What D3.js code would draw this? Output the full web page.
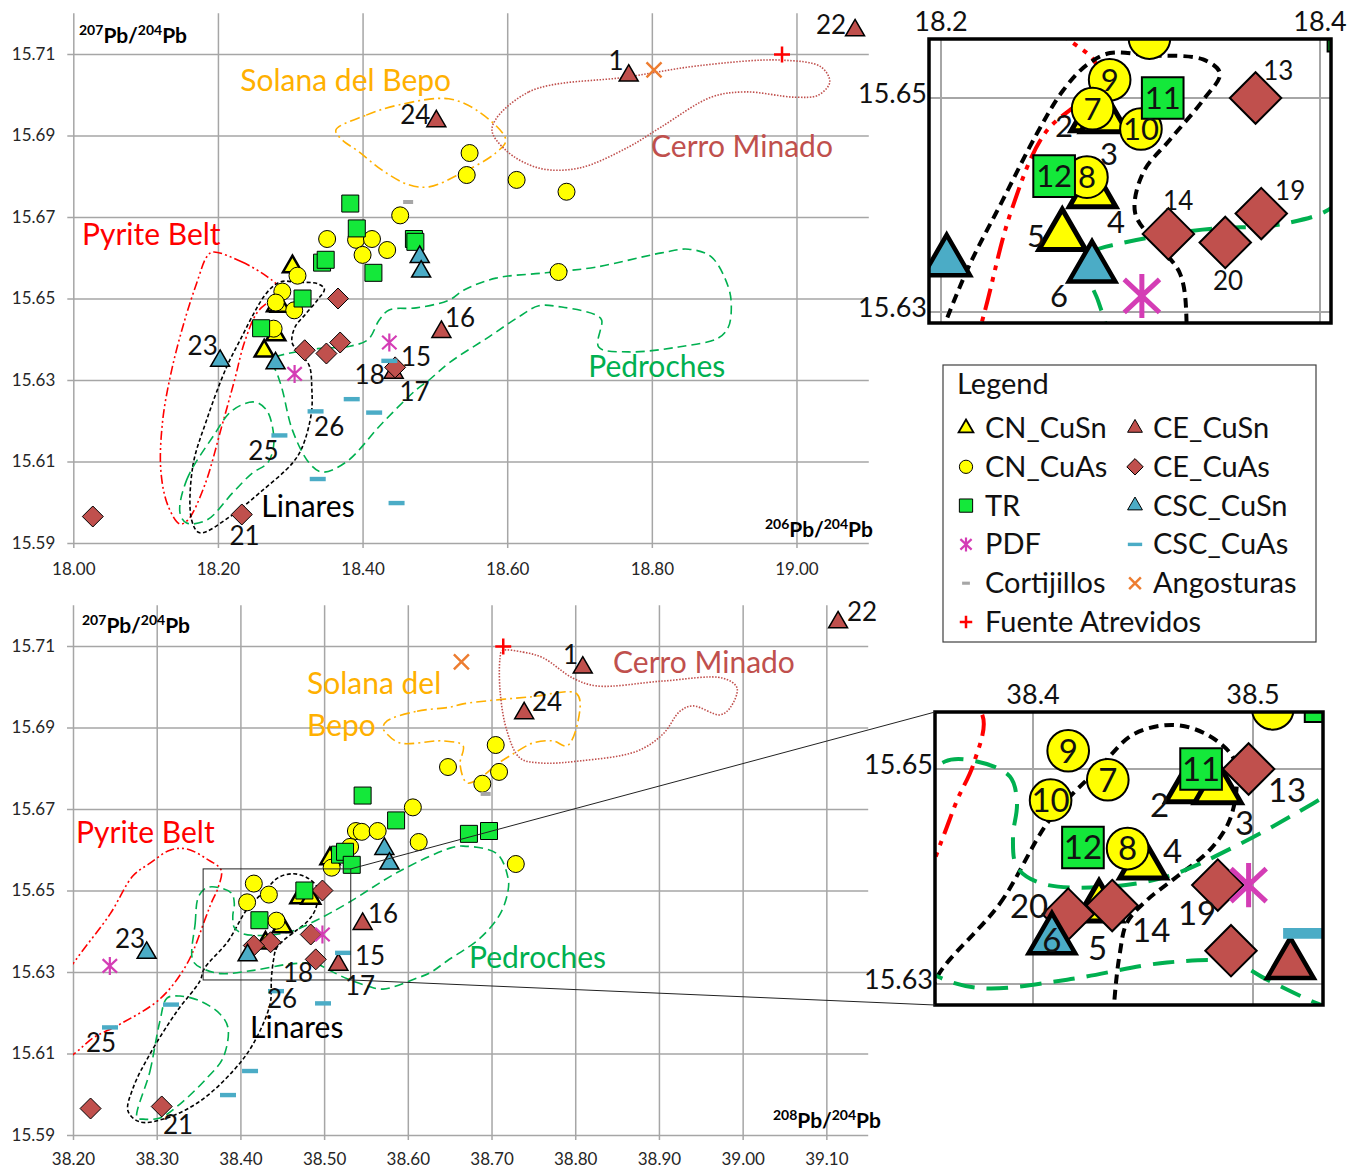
<!DOCTYPE html>
<meta charset="utf-8">
<title>Pb isotope ratios</title>
<style>
  body { margin: 0; background: #fff; }
  text { font-family: Lato, "Open Sans", sans-serif; }
</style>
<body>
<svg id="chart" width="1354" height="1168"></svg>
<script src="https://d3js.org/d3.v7.min.js"></script>
<script>

// samples: [206Pb/204Pb, 207Pb/204Pb, 208Pb/204Pb, sample no.]
var cnCuSn = [[18.281,15.6482,38.471,"2"],[18.286,15.6481,38.484,"3"],[18.280,15.6411,38.450,"4"],
  [18.264,15.6371,38.430,"5"],[18.303,15.6578,38.507,""]];
var ceCuSn = [[19.081,15.7158,39.114,"22"],[18.768,15.7047,38.809,"1"],[18.502,15.6935,38.739,"24"],
  [18.509,15.6418,38.546,"16"],[18.443,15.6318,38.517,"17"]];
var cnCuAs = [[18.289,15.6517,38.416,"9"],[18.280,15.6490,38.434,"7"],[18.3055,15.6471,38.408,"10"],
  [18.277,15.6426,38.443,"8"],[18.310,15.6556,38.509,""],[18.351,15.6646,38.538,""],
  [18.391,15.6644,38.545,""],[18.413,15.6646,38.564,""],[18.400,15.6607,38.531,""],
  [18.434,15.6619,38.613,""],[18.452,15.6704,38.606,""],[18.548,15.6857,38.705,""],
  [18.544,15.6803,38.648,""],[18.613,15.6791,38.709,""],[18.682,15.6762,38.689,""],
  [18.671,15.6565,38.729,""]];
var ceCuAs = [[18.027,15.5965,38.221,""],[18.233,15.5970,38.306,"21"],[18.366,15.6500,38.498,"13"],
  [18.320,15.6373,38.436,"14"],[18.350,15.6365,38.416,"20"],[18.369,15.6392,38.484,"19"],
  [18.445,15.6331,38.490,"18"]];
var tr = [[18.317,15.6500,38.4764,"11"],[18.2597,15.6427,38.4227,"12"],[18.383,15.6733,38.546,""],
  [18.392,15.6672,38.586,""],[18.344,15.6588,38.519,""],[18.349,15.6595,38.525,""],
  [18.415,15.6563,38.533,""],[18.471,15.6646,38.697,""],[18.473,15.6639,38.673,""]];
var cscCuSn = [[18.203,15.6347,38.288,"23"],[18.2797,15.6341,38.4086,"6"],[18.479,15.6602,38.572,""],
  [18.481,15.6566,38.578,""]];
var pdf = [[18.306,15.6315,38.244,""],[18.437,15.6392,38.498,""]];
var cscCuAs = [[18.437,15.6347,38.5226,"15"],[18.385,15.6253,38.4425,"26"],[18.335,15.6223,38.4987,""],
  [18.416,15.6220,38.3171,""],[18.285,15.6164,38.2442,"25"],[18.338,15.6057,38.4115,""],
  [18.447,15.5998,38.3852,""]];
var cortijillos = [[18.463,15.6737,38.693,""]];
var angosturas = [[18.803,15.7061,38.664,""]];
var fuenteAtrevidos = [[18.980,15.7099,38.714,""]];

// ore field outlines, 206/204 vs 207/204
var pyriteTop = [[18.1927,15.6614],[18.2327,15.6590],[18.2685,15.6553],[18.2820,15.6531],[18.2790,15.6507],
  [18.2548,15.6467],[18.2368,15.6393],[18.2230,15.6300],[18.2051,15.6185],[18.1817,15.6042],[18.1582,15.5956],
  [18.1472,15.5947],[18.1306,15.5993],[18.1210,15.6079],[18.1237,15.6202],[18.1361,15.6325],[18.1541,15.6447],
  [18.1720,15.6545],[18.1844,15.6602]];
var linaresTop = [[18.1637,15.5956],[18.1651,15.6087],[18.1844,15.6202],[18.2120,15.6332],[18.2327,15.6405],
  [18.2507,15.6467],[18.2644,15.6507],[18.2770,15.6531],[18.2892,15.6542],[18.3087,15.6540],[18.3383,15.6536],
  [18.3472,15.6523],[18.3383,15.6498],[18.3208,15.6461],[18.3066,15.6430],[18.3024,15.6393],[18.3119,15.6367],
  [18.3261,15.6336],[18.3298,15.6280],[18.3292,15.6219],[18.3168,15.6136],[18.3030,15.6096],[18.2575,15.6023],
  [18.2161,15.5964],[18.1748,15.5925]];
var pedrochesTopA = [[18.1475,15.5974],[18.1568,15.6055],[18.1927,15.6160],[18.2203,15.6226],[18.2506,15.6246],
  [18.2672,15.6226],[18.2754,15.6185],[18.2768,15.6136],[18.2685,15.6096],[18.2478,15.6072],[18.2203,15.6023],
  [18.1844,15.5956],[18.1568,15.5949]];
var pedrochesTopB = [[18.2760,15.6343],[18.2800,15.6356],[18.2945,15.6364],[18.3380,15.6377],[18.3826,15.6383],
  [18.4080,15.6400],[18.4230,15.6447],[18.4368,15.6472],[18.4741,15.6477],[18.5196,15.6496],[18.5403,15.6521],
  [18.5844,15.6550],[18.6534,15.6563],[18.7223,15.6577],[18.8134,15.6612],[18.8506,15.6621],[18.8823,15.6602],
  [18.9058,15.6528],[18.9099,15.6479],[18.9058,15.6430],[18.8920,15.6403],[18.8368,15.6381],[18.7678,15.6369],
  [18.7265,15.6381],[18.7306,15.6447],[18.7223,15.6460],[18.6754,15.6479],[18.6437,15.6482],[18.6161,15.6455],
  [18.5748,15.6406],[18.5196,15.6342],[18.4920,15.6300],[18.4741,15.6276],[18.4272,15.6194],[18.3775,15.6099],
  [18.3444,15.6074],[18.3264,15.6096],[18.3030,15.6177],[18.2892,15.6275],[18.2830,15.6310]];
var solanaTop = [[18.363,15.6913],[18.405,15.6950],[18.450,15.6975],[18.519,15.6990],[18.561,15.6958],
  [18.598,15.6889],[18.584,15.6857],[18.537,15.6808],[18.492,15.6774],[18.464,15.6779],[18.427,15.6815],
  [18.395,15.6860],[18.372,15.6889]];
var cerroTop = [[18.579,15.6918],[18.630,15.7007],[18.768,15.7044],[18.864,15.7071],[18.979,15.7085],
  [19.034,15.7068],[19.046,15.7031],[19.030,15.6999],[18.998,15.6994],[18.929,15.7007],[18.882,15.6994],
  [18.813,15.6921],[18.768,15.6872],[18.699,15.6820],[18.644,15.6820],[18.598,15.6864]];

// ore field outlines, 208/204 vs 207/204
var pyriteBot = [[38.1785,15.6069],[38.1665,15.6217],[38.2024,15.6327],[38.2442,15.6442],[38.2717,15.6536],
  [38.2920,15.6567],[38.3159,15.6599],[38.3362,15.6602],[38.3601,15.6577],[38.3770,15.6550],[38.3730,15.6505],
  [38.3655,15.6471],[38.3586,15.6434],[38.3362,15.6320],[38.3039,15.6234],[38.2562,15.6172],[38.2239,15.6138],
  [38.2024,15.6101]];
var linaresBot = [[38.3568,15.6308],[38.3850,15.6375],[38.4077,15.6453],[38.4305,15.6502],[38.4455,15.6532],
  [38.4636,15.6541],[38.4791,15.6532],[38.4909,15.6511],[38.4927,15.6490],[38.4895,15.6453],[38.4805,15.6425],
  [38.4655,15.6400],[38.4518,15.6378],[38.4427,15.6357],[38.4395,15.6329],[38.4370,15.6285],[38.4354,15.6221],
  [38.4151,15.6123],[38.3912,15.6057],[38.3517,15.5983],[38.3123,15.5942],[38.2800,15.5932],[38.2657,15.5959],
  [38.2717,15.6015],[38.2920,15.6099],[38.3243,15.6204],[38.3517,15.6278]];
var pedrochesBotA = [[38.2765,15.5942],[38.2920,15.6057],[38.3039,15.6180],[38.3123,15.6236],[38.3278,15.6241],
  [38.3517,15.6229],[38.3756,15.6197],[38.3852,15.6163],[38.3792,15.6089],[38.3601,15.6040],[38.3278,15.5976],
  [38.3039,15.5942],[38.2836,15.5939]];
var pedrochesBotB = [[38.3434,15.6327],[38.3460,15.6420],[38.3500,15.6485],[38.3600,15.6507],[38.3745,15.6507],
  [38.3895,15.6493],[38.3927,15.6468],[38.3909,15.6437],[38.3927,15.6409],[38.4032,15.6394],[38.4305,15.6390],
  [38.4609,15.6400],[38.4909,15.6427],[38.5273,15.6468],[38.5907,15.6548],[38.6504,15.6604],[38.6660,15.6609],
  [38.7066,15.6590],[38.7197,15.6531],[38.7197,15.6499],[38.7102,15.6442],[38.6863,15.6383],[38.6468,15.6327],
  [38.6265,15.6298],[38.6110,15.6285],[38.5704,15.6258],[38.5513,15.6266],[38.5291,15.6282],[38.5064,15.6304],
  [38.4909,15.6320],[38.4609,15.6320],[38.4155,15.6304],[38.3773,15.6296],[38.3577,15.6306]];
var solanaBot = [[38.5752,15.6916],[38.6110,15.6940],[38.6504,15.6950],[38.6660,15.6958],[38.7460,15.6975],
  [38.8022,15.6982],[38.8034,15.6916],[38.7902,15.6855],[38.7735,15.6867],[38.7496,15.6862],[38.7257,15.6835],
  [38.7066,15.6810],[38.6863,15.6776],[38.6707,15.6764],[38.6624,15.6810],[38.6660,15.6855],[38.6421,15.6867],
  [38.5907,15.6862],[38.5752,15.6884],[38.5704,15.6899]];
var cerroBot = [[38.7126,15.7088],[38.7376,15.7085],[38.7615,15.7071],[38.7974,15.7021],[38.8260,15.7002],
  [38.9049,15.7014],[38.9766,15.7021],[38.9933,15.6997],[38.9849,15.6948],[38.9730,15.6931],[38.9407,15.6953],
  [38.9252,15.6940],[38.9049,15.6884],[38.8738,15.6842],[38.8057,15.6818],[38.7579,15.6813],[38.7341,15.6825],
  [38.7185,15.6891],[38.7102,15.6990],[38.7102,15.7071]];

// ticks
var yTicks = [15.59,15.61,15.63,15.65,15.67,15.69,15.71];
var topXTicks = [18.0,18.2,18.4,18.6,18.8,19.0];
var botXTicks = [38.2,38.3,38.4,38.5,38.6,38.7,38.8,38.9,39.0,39.1];
var insetYTicks = [15.63,15.65];
var topInsetXTicks = [18.2,18.4];
var botInsetXTicks = [38.4,38.5];

// annotations: [text, x value, y value]
var topNumLabels = [["22",19.027,15.7149],["1",18.740,15.7061],["24",18.452,15.6928],["16",18.514,15.6430],
  ["15",18.453,15.6334],["18",18.389,15.6290],["17",18.451,15.6248],["23",18.158,15.6361],["26",18.333,15.6163],
  ["25",18.242,15.6104],["21",18.216,15.5895]];
var botNumLabels = [["22",39.1247,15.7161],["1",38.7854,15.7056],["24",38.7484,15.6940],["16",38.5524,15.6420],
  ["15",38.5369,15.6317],["18",38.4509,15.6275],["17",38.5250,15.6244],["23",38.2502,15.6359],["26",38.4318,15.6212],
  ["25",38.2155,15.6104],["21",38.3075,15.5902]];
var topInsetLabels = [["2",18.2602,15.6464],["3",18.2839,15.6437],["4",18.2876,15.6374],["5",18.2454,15.6361],
  ["6",18.2575,15.6305],["13",18.370,15.6517],["14",18.3172,15.6395],["19",18.3763,15.6405],["20",18.3435,15.6321]];
var botInsetLabels = [["2",38.4532,15.6455],["3",38.4918,15.6439],["4",38.4591,15.6413],["5",38.4250,15.6322],
  ["13",38.5068,15.6469],["14",38.4450,15.6339],["19",38.4659,15.6355],["20",38.3895,15.6361]];
var topInsetInside = ["7","8","9","10","11","12"];
var botInsetInside = ["6","7","8","9","10","11","12"];
var topFieldLabels = [["Solana del Bepo",18.231,15.7009,"solana"],["Cerro Minado",18.799,15.6847,"cerro"],
  ["Pyrite Belt",18.012,15.6631,"pyrite"],["Pedroches",18.712,15.6307,"pedroches"],["Linares",18.260,15.5964,"linares"]];
var botFieldLabels = [["Solana del",38.4796,15.6982,"solana"],["Bepo",38.4796,15.6879,"solana"],
  ["Cerro Minado",38.8452,15.7034,"cerro"],["Pyrite Belt",38.2036,15.6617,"pyrite"],
  ["Pedroches",38.6731,15.6310,"pedroches"],["Linares",38.4115,15.6138,"linares"]];
var legendCol1 = ["CN_CuSn","CN_CuAs","TR","PDF","Cortijillos","Fuente Atrevidos"];
var legendCol2 = ["CE_CuSn","CE_CuAs","CSC_CuSn","CSC_CuAs","Angosturas"];

// ---------------------------------------------------------------- styles
var series = [
  {name:"CN_CuSn", data:cnCuSn, shape:"tri", fill:"#FFFF00", sw:2.5, swi:5},
  {name:"CE_CuSn", data:ceCuSn, shape:"tri", fill:"#C0504D", sw:1.5, swi:4.5},
  {name:"CN_CuAs", data:cnCuAs, shape:"circle", fill:"#FFFF00", sw:1, swi:2},
  {name:"CE_CuAs", data:ceCuAs, shape:"diamond", fill:"#C0504D", sw:1, swi:2},
  {name:"TR", data:tr, shape:"square", fill:"#14E83A", sw:1, swi:2},
  {name:"CSC_CuSn", data:cscCuSn, shape:"tri", fill:"#4BACC6", sw:1.5, swi:4.5},
  {name:"PDF", data:pdf, shape:"star", color:"#D43DB5", sw:2.2, swi:5},
  {name:"CSC_CuAs", data:cscCuAs, shape:"dash", fill:"#4BACC6"},
  {name:"Cortijillos", data:cortijillos, shape:"gdash", fill:"#A6A6A6"},
  {name:"Angosturas", data:angosturas, shape:"x", color:"#ED7D31", sw:2.5, swi:5},
  {name:"Fuente Atrevidos", data:fuenteAtrevidos, shape:"plus", color:"#FF0000", sw:2.5, swi:5}
];
var fieldStyle = {
  pyrite: {color:"#FF0000", dash:[9,3,2,3,2,3]},
  linares: {color:"#000000", dash:[4,2.5]},
  pedroches: {color:"#00B050", dash:[9,5]},
  solana: {color:"#FFB000", dash:[10,4,2,4]},
  cerro: {color:"#C0504D", dash:[1.5,1.5]}
};
var topFields = [[pyriteTop,"pyrite"],[linaresTop,"linares"],[pedrochesTopA,"pedroches"],
  [pedrochesTopB,"pedroches"],[solanaTop,"solana"],[cerroTop,"cerro"]];
var botFields = [[pyriteBot,"pyrite"],[linaresBot,"linares"],[pedrochesBotA,"pedroches"],
  [pedrochesBotB,"pedroches"],[solanaBot,"solana"],[cerroBot,"cerro"]];

var svg = d3.select("#chart");
var defs = svg.append("defs");

function shapePath(shape, k) {
  var a, h, s, r, t;
  switch (shape) {
    case "tri":
      a = 19 * k; h = a * Math.sqrt(3) / 2;
      return "M0," + (-2 * h / 3) + "L" + (a / 2) + "," + (h / 3) + "L" + (-a / 2) + "," + (h / 3) + "Z";
    case "circle":
      r = 8.5 * k;
      return "M" + r + ",0A" + r + "," + r + " 0 1,1 " + (-r) + ",0A" + r + "," + r + " 0 1,1 " + r + ",0Z";
    case "square":
      s = 8.5 * k;
      return "M" + (-s) + "," + (-s) + "H" + s + "V" + s + "H" + (-s) + "Z";
    case "diamond":
      s = 10.5 * k;
      return "M0," + (-s) + "L" + s + ",0L0," + s + "L" + (-s) + ",0Z";
    case "dash":
      s = 8 * k; t = 2.2 * k;
      return "M" + (-s) + "," + (-t) + "H" + s + "V" + t + "H" + (-s) + "Z";
    case "gdash":
      s = 5 * k; t = 2 * k;
      return "M" + (-s) + "," + (-t) + "H" + s + "V" + t + "H" + (-s) + "Z";
    case "star":
      s = 9 * k;
      return "M0," + (-s) + "V" + s + "M" + (-0.8 * s) + "," + (-0.75 * s) + "L" + (0.8 * s) + "," + (0.75 * s) +
        "M" + (-0.8 * s) + "," + (0.75 * s) + "L" + (0.8 * s) + "," + (-0.75 * s);
    case "x":
      s = 7.5 * k;
      return "M" + (-s) + "," + (-s) + "L" + s + "," + s + "M" + (-s) + "," + s + "L" + s + "," + (-s);
    case "plus":
      s = 8 * k;
      return "M" + (-s) + ",0H" + s + "M0," + (-s) + "V" + s;
  }
}

function styleMarker(sel, sr, inset) {
  if (sr.color) {
    sel.attr("fill", "none").attr("stroke", sr.color).attr("stroke-width", inset ? sr.swi : sr.sw);
  } else if (sr.sw) {
    sel.attr("fill", sr.fill).attr("stroke", "#000").attr("stroke-width", inset ? sr.swi : sr.sw)
      .attr("stroke-linejoin", "miter");
  } else {
    sel.attr("fill", sr.fill).attr("stroke", "none");
  }
}

function drawFields(g, fields, x, y, lw, dk) {
  var line = d3.line().x(function(d) { return x(d[0]); }).y(function(d) { return y(d[1]); })
    .curve(d3.curveCatmullRomClosed.alpha(0.5));
  fields.forEach(function(f) {
    var st = fieldStyle[f[1]];
    g.append("path").attr("d", line(f[0])).attr("fill", "none")
      .attr("stroke", st.color).attr("stroke-width", lw)
      .attr("stroke-dasharray", st.dash.map(function(v) { return v * dk; }).join(","));
  });
}

function drawPoints(g, xi, x, y, k, inset) {
  series.forEach(function(sr) {
    g.selectAll(null).data(sr.data).enter().append("path")
      .attr("d", shapePath(sr.shape, k))
      .attr("transform", function(d) { return "translate(" + x(d[xi]) + "," + y(d[1]) + ")"; })
      .call(styleMarker, sr, inset);
  });
}

function addLabels(g, labels, x, y, size, color) {
  g.selectAll(null).data(labels).enter().append("text")
    .attr("x", function(d) { return x(d[1]); })
    .attr("y", function(d) { return y(d[2]); })
    .attr("fill", color || "#111")
    .style("font-size", size + "px")
    .text(function(d) { return d[0]; });
}

function findPoint(id) {
  for (var i = 0; i < series.length; i++) {
    for (var j = 0; j < series[i].data.length; j++) {
      if (series[i].data[j][3] === id) return series[i].data[j];
    }
  }
}

// ---------------------------------------------------------------- main panels
function mainPanel(p) {
  var x = d3.scaleLinear().domain(p.xd).range([p.left, p.right]);
  var y = d3.scaleLinear().domain([15.59, 15.72]).range([p.bottom, p.top]);
  var g = svg.append("g");
  defs.append("clipPath").attr("id", p.id).append("rect")
    .attr("x", p.left).attr("y", p.top).attr("width", p.right - p.left).attr("height", p.bottom - p.top);

  var ya = g.append("g").attr("transform", "translate(" + p.left + ",0)")
    .call(d3.axisLeft(y).tickValues(yTicks).tickSize(-(p.right - p.left)).tickPadding(18)
      .tickFormat(d3.format(".2f")));
  ya.select(".domain").remove();
  ya.selectAll("line").attr("x1", -6).attr("stroke", "#a6a6a6").attr("stroke-width", 1.5);
  ya.selectAll("text").attr("fill", "#262626").style("font-size", "17px").style("font-family", null);

  var xa = g.append("g").attr("transform", "translate(0," + p.bottom + ")")
    .call(d3.axisBottom(x).tickValues(p.xTicks).tickSize(-(p.bottom - p.top)).tickPadding(p.pad)
      .tickFormat(d3.format(".2f")));
  xa.select(".domain").remove();
  xa.selectAll("line").attr("y1", 5).attr("stroke", "#a6a6a6").attr("stroke-width", 1.5);
  xa.selectAll("text").attr("fill", "#262626").style("font-size", "17px").style("font-family", null);

  var c = g.append("g").attr("clip-path", "url(#" + p.id + ")");
  drawFields(c, p.fields, x, y, 1.6, 1);
  drawPoints(c, p.xi, x, y, 1, false);

  addLabels(g, p.numLabels, x, y, 26);
  g.selectAll(null).data(p.fieldLabels).enter().append("text")
    .attr("x", function(d) { return x(d[1]); })
    .attr("y", function(d) { return y(d[2]); })
    .attr("fill", function(d) { return fieldStyle[d[3]].color; })
    .style("font-size", "30px")
    .text(function(d) { return d[0]; });

  // axis titles
  axisTitle(g, p.yTitle[0], p.yTitle[1], "207", "start");
  axisTitle(g, p.xTitle[0], p.xTitle[1], p.xIso, "end");
  return {x: x, y: y, g: g};
}

function axisTitle(g, px, py, iso, anchor) {
  var t = g.append("text").attr("x", px).attr("y", py).attr("text-anchor", anchor)
    .attr("fill", "#000").style("font-weight", "bold").style("font-size", "21px");
  t.append("tspan").text(iso).style("font-size", "14px").attr("dy", -8);
  t.append("tspan").text("Pb/").attr("dy", 8);
  t.append("tspan").text("204").style("font-size", "14px").attr("dy", -8);
  t.append("tspan").text("Pb").attr("dy", 8);
}

var top = mainPanel({id: "clipTop", left: 73.3, right: 868.8, top: 13.25, bottom: 543, xd: [18.0, 19.1],
  xTicks: topXTicks, pad: 20, xi: 0, fields: topFields, numLabels: topNumLabels, fieldLabels: topFieldLabels,
  yTitle: [79, 43], xTitle: [873, 537], xIso: "206"});
var bot = mainPanel({id: "clipBot", left: 73, right: 868.2, top: 605.25, bottom: 1135, xd: [38.2, 39.15],
  xTicks: botXTicks, pad: 18, xi: 2, fields: botFields, numLabels: botNumLabels, fieldLabels: botFieldLabels,
  yTitle: [82, 633], xTitle: [881, 1128], xIso: "208"});

// ---------------------------------------------------------------- insets
function inset(p) {
  var x = d3.scaleLinear().domain(p.xd).range(p.xr);
  var y = d3.scaleLinear().domain(insetYTicks).range(p.yr);
  var g = svg.append("g");
  defs.append("clipPath").attr("id", p.id).append("rect")
    .attr("x", p.left).attr("y", p.top).attr("width", p.right - p.left).attr("height", p.bottom - p.top);
  g.append("rect").attr("x", p.left).attr("y", p.top).attr("width", p.right - p.left)
    .attr("height", p.bottom - p.top).attr("fill", "#fff");

  var c = g.append("g").attr("clip-path", "url(#" + p.id + ")");
  c.selectAll(null).data(p.xTicks).enter().append("line")
    .attr("x1", x).attr("x2", x).attr("y1", p.top).attr("y2", p.bottom)
    .attr("stroke", "#a6a6a6").attr("stroke-width", 2);
  c.selectAll(null).data(insetYTicks).enter().append("line")
    .attr("y1", y).attr("y2", y).attr("x1", p.left).attr("x2", p.right)
    .attr("stroke", "#a6a6a6").attr("stroke-width", 2);
  drawFields(c, p.fields, x, y, 4, 2.4);
  drawPoints(c, p.xi, x, y, 2.45, true);

  g.append("rect").attr("x", p.left).attr("y", p.top).attr("width", p.right - p.left)
    .attr("height", p.bottom - p.top).attr("fill", "none").attr("stroke", "#000").attr("stroke-width", 3.5);

  g.selectAll(null).data(p.xTicks).enter().append("text")
    .attr("x", x).attr("y", p.top - 8).attr("text-anchor", "middle").attr("fill", "#111")
    .style("font-size", "27px").text(d3.format(".1f"));
  g.selectAll(null).data(insetYTicks).enter().append("text")
    .attr("x", p.left - 2).attr("y", function(d) { return y(d) - 4; }).attr("dy", "0.35em")
    .attr("text-anchor", "end").attr("fill", "#111")
    .style("font-size", "27px").text(d3.format(".2f"));

  g.selectAll(null).data(p.labels).enter().append("text")
    .attr("x", function(d) { return x(d[1]); })
    .attr("y", function(d) { return y(d[2]); })
    .attr("fill", "#111")
    .style("font-size", function(d) { return (p.small.indexOf(d[0]) >= 0 ? p.smallSize : p.size) + "px"; })
    .text(function(d) { return d[0]; });
  g.selectAll(null).data(p.inside).enter().append("text")
    .attr("x", function(d) { return x(findPoint(d)[p.xi]); })
    .attr("y", function(d) { return y(findPoint(d)[1]); })
    .attr("dy", "0.36em").attr("text-anchor", "middle").attr("fill", "#111")
    .style("font-size", p.size + "px")
    .text(function(d) { return d; });
  return {x: x, y: y, p: p};
}

inset({id: "clipInsetTop", left: 929, right: 1331, top: 39, bottom: 323, xd: [18.2, 18.4], xr: [941, 1320],
  yr: [312, 98], xi: 0, xTicks: topInsetXTicks, fields: topFields, labels: topInsetLabels,
  inside: topInsetInside, size: 31, smallSize: 26, small: ["13","14","19","20"]});
var ib = inset({id: "clipInsetBot", left: 935, right: 1323, top: 712, bottom: 1005, xd: [38.4, 38.5],
  xr: [1033, 1253], yr: [984, 769], xi: 2, xTicks: botInsetXTicks, fields: botFields, labels: botInsetLabels,
  inside: botInsetInside, size: 33, smallSize: 33, small: []});

// zoom window on the lower panel and its connectors
var zx0 = ib.x.invert(ib.p.left), zx1 = ib.x.invert(ib.p.right);
var zy0 = ib.y.invert(ib.p.top), zy1 = ib.y.invert(ib.p.bottom);
svg.append("rect")
  .attr("x", bot.x(zx0)).attr("y", bot.y(zy0))
  .attr("width", bot.x(zx1) - bot.x(zx0)).attr("height", bot.y(zy1) - bot.y(zy0))
  .attr("fill", "none").attr("stroke", "#222").attr("stroke-width", 1);
svg.append("line").attr("x1", bot.x(zx1)).attr("y1", bot.y(zy0)).attr("x2", ib.p.left).attr("y2", ib.p.top)
  .attr("stroke", "#222").attr("stroke-width", 1);
svg.append("line").attr("x1", bot.x(zx1)).attr("y1", bot.y(zy1)).attr("x2", ib.p.left).attr("y2", ib.p.bottom)
  .attr("stroke", "#222").attr("stroke-width", 1);

// ---------------------------------------------------------------- legend
var lg = svg.append("g");
lg.append("rect").attr("x", 943).attr("y", 365).attr("width", 373).attr("height", 277)
  .attr("fill", "#fff").attr("stroke", "#404040").attr("stroke-width", 1.2);
lg.append("text").attr("x", 957).attr("y", 394).attr("fill", "#111").style("font-size", "29px").text("Legend");

function legendColumn(names, mx, tx) {
  names.forEach(function(name, i) {
    var sr = series.filter(function(s) { return s.name === name; })[0];
    var by = 438 + i * 38.8;
    lg.append("path").attr("d", shapePath(sr.shape, 0.78))
      .attr("transform", "translate(" + mx + "," + (by - 10) + ")")
      .call(function(sel) {
        styleMarker(sel, sr, false);
        if (sr.sw && !sr.color) sel.attr("stroke-width", sr.name === "CN_CuSn" ? 1.8 : 1);
        if (sr.shape === "dash") sel.attr("transform", "translate(" + mx + "," + (by - 10) + ") scale(1.15,1)");
      });
    lg.append("text").attr("x", tx).attr("y", by).attr("fill", "#111").style("font-size", "29px").text(name);
  });
}
legendColumn(legendCol1, 966, 985);
legendColumn(legendCol2, 1135, 1153);

</script>
</body>
